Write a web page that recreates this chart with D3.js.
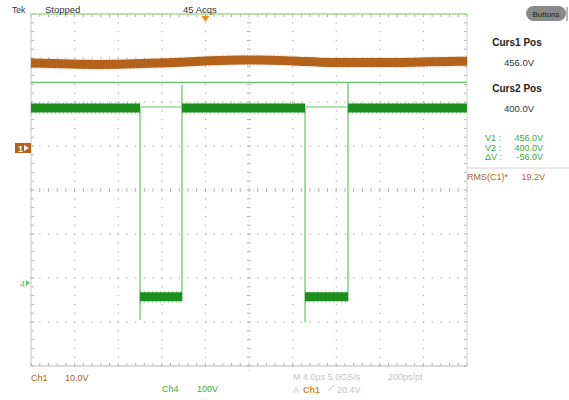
<!DOCTYPE html>
<html><head><meta charset="utf-8">
<script src="https://cdn.jsdelivr.net/npm/d3@7"></script>
<style>
html,body{margin:0;padding:0;background:#fff;}
svg{display:block;font-family:"Liberation Sans",Arial,sans-serif;}
</style></head>
<body>
<svg id="c" width="569" height="400"></svg>
<script>
// ---- data ----
// time axis in microseconds (4 us/div, trigger at t=0)
const timeRange = [-16, 24];
// Ch1 (10 V/div): slowly varying DC level, volts
const ch1Times  = [-16, -9.7, -4.2, -0.5, 3.2, 5.0, 8.0, 11.4, 17.9, 23.4, 24];
const ch1Volts  = [19.3, 19.0, 19.3, 19.7, 20.0, 20.0, 19.8, 19.45, 19.45, 19.7, 19.7];
// Ch4 (100 V/div): pulse train
const ch4High = 398;
const ch4Low = -31;
const pulseStarts = [-6.0, 9.14];
const pulseEnds   = [-2.15, 13.08];
const fallPeaks   = [-84, -89];
const risePeaks   = [450, 455];
// cursors (Ch4 volts)
const cursorVolts = [456, 400];
const cursorLabels = ["456.0V", "400.0V"];
const deltaLabel = "-56.0V";
const rmsLabel = "19.2V";
const ch1Scale = "10.0V", ch4Scale = "100V";

// ---- layout ----
const L = 31, R = 467, T = 14, B = 366;
const svg = d3.select("#c");
const x = d3.scaleLinear().domain(timeRange).range([L, R]);
const xDiv = d3.scaleLinear().domain([0, 10]).range([L, R]);
const yDiv = d3.scaleLinear().domain([0, 8]).range([T, B]);
// ch1 ground at y=148, ch4 ground at y=283
const y1 = d3.scaleLinear().domain([0, 10]).range([148, 148 - 44]);
const y4 = d3.scaleLinear().domain([0, 100]).range([283, 283 - 44]);

const brown = "#b5621a", green = "#1c8f1c", lgreen = "#62c462";

// ---- graticule ----
const g = svg.append("g");
const dotCol = "#b0b0b0";
for (let k = 1; k < 10; k++) {
  if (k === 5) continue;
  for (let j = 0; j <= 40; j++) {
    g.append("rect").attr("x", xDiv(k) - 0.5).attr("y", yDiv(j / 5) - 0.5)
      .attr("width", 1.2).attr("height", 1.2).attr("fill", dotCol);
  }
}
for (let k = 1; k < 8; k++) {
  if (k === 4) continue;
  for (let j = 0; j <= 50; j++) {
    g.append("rect").attr("x", xDiv(j / 5) - 0.5).attr("y", yDiv(k) - 0.5)
      .attr("width", 1.2).attr("height", 1.2).attr("fill", dotCol);
  }
}
// center lines with ticks
for (let j = 0; j <= 40; j++) {
  g.append("line").attr("x1", xDiv(5) - 2).attr("x2", xDiv(5) + 2)
    .attr("y1", yDiv(j / 5)).attr("y2", yDiv(j / 5)).attr("stroke", dotCol).attr("stroke-width", 1);
  g.append("rect").attr("x", xDiv(5) - 0.5).attr("y", yDiv(j / 5 + 0.1) - 0.5)
    .attr("width", 1).attr("height", 1).attr("fill", "#c8c8c8");
}
for (let j = 0; j <= 50; j++) {
  g.append("line").attr("x1", xDiv(j / 5)).attr("x2", xDiv(j / 5))
    .attr("y1", yDiv(4) - 2).attr("y2", yDiv(4) + 2).attr("stroke", dotCol).attr("stroke-width", 1);
  g.append("rect").attr("x", xDiv(j / 5 + 0.1) - 0.5).attr("y", yDiv(4) - 0.5)
    .attr("width", 1).attr("height", 1).attr("fill", "#c8c8c8");
}
// border ticks
for (let j = 0; j <= 50; j++) {
  g.append("line").attr("x1", xDiv(j / 5)).attr("x2", xDiv(j / 5)).attr("y1", T).attr("y2", T + 3).attr("stroke", "#b0b0b0");
  g.append("line").attr("x1", xDiv(j / 5)).attr("x2", xDiv(j / 5)).attr("y1", B).attr("y2", B - 3).attr("stroke", "#b0b0b0");
}
for (let j = 0; j <= 40; j++) {
  g.append("line").attr("x1", L).attr("x2", L + 3).attr("y1", yDiv(j / 5)).attr("y2", yDiv(j / 5)).attr("stroke", "#b0b0b0");
  g.append("line").attr("x1", R).attr("x2", R - 3).attr("y1", yDiv(j / 5)).attr("y2", yDiv(j / 5)).attr("stroke", "#b0b0b0");
}
// border
g.append("line").attr("x1", L).attr("x2", L).attr("y1", T).attr("y2", B).attr("stroke", "#c4c4c4");
g.append("line").attr("x1", L).attr("x2", R).attr("y1", B).attr("y2", B).attr("stroke", "#b8b8b8");
g.append("line").attr("x1", R).attr("x2", R).attr("y1", T).attr("y2", B).attr("stroke", "#cfd8c4");
g.append("line").attr("x1", L).attr("x2", R).attr("y1", T).attr("y2", T).attr("stroke", "#a9d88f").attr("stroke-width", 1.3);

// ---- cursors ----
cursorVolts.forEach(v => {
  svg.append("line").attr("x1", L).attr("x2", R).attr("y1", y4(v)).attr("y2", y4(v))
    .attr("stroke", lgreen).attr("stroke-width", 1.2);
});

// ---- Ch1 trace (noisy band) ----
const ch1Data = ch1Times.map((t, i) => [t, ch1Volts[i]]);
const line1 = d3.line().x(d => x(d[0])).y(d => y1(d[1])).curve(d3.curveMonotoneX);
svg.append("path").attr("d", line1(ch1Data)).attr("fill", "none")
  .attr("stroke", brown).attr("stroke-width", 9);
svg.append("path").attr("d", line1(ch1Data)).attr("fill", "none")
  .attr("stroke", brown).attr("stroke-width", 11).attr("stroke-opacity", 0.35)
  .attr("stroke-dasharray", "1,2");

// ---- Ch4 trace ----
const segs = [];
let t0 = timeRange[0];
pulseStarts.forEach((s, i) => {
  segs.push([[t0, ch4High], [s, ch4High]]);
  segs.push([[s, ch4Low], [pulseEnds[i], ch4Low]]);
  t0 = pulseEnds[i];
});
segs.push([[t0, ch4High], [timeRange[1], ch4High]]);
const line4 = d3.line().x(d => x(d[0])).y(d => y4(d[1]));
pulseStarts.forEach((s, i) => {
  svg.append("path").attr("d", line4([[s, ch4High], [s, fallPeaks[i]]]))
    .attr("stroke", lgreen).attr("stroke-width", 1.2).attr("fill", "none");
});
pulseEnds.forEach((s, i) => {
  svg.append("path").attr("d", line4([[s, ch4Low - 10], [s, risePeaks[i]]]))
    .attr("stroke", lgreen).attr("stroke-width", 1.2).attr("fill", "none");
});
segs.forEach(sg => {
  svg.append("path").attr("d", line4(sg)).attr("fill", "none")
    .attr("stroke", green).attr("stroke-width", 9);
  svg.append("path").attr("d", line4(sg)).attr("fill", "none")
    .attr("stroke", green).attr("stroke-width", 12).attr("stroke-opacity", 0.3)
    .attr("stroke-dasharray", "1,3");
});

// ---- markers ----
svg.append("rect").attr("x", 15).attr("y", y1(0) - 5).attr("width", 16).attr("height", 10).attr("fill", brown);
svg.append("text").attr("x", 18).attr("y", y1(0) + 4).attr("fill", "#fff").attr("font-size", 9).attr("font-weight", "bold").text("1");
svg.append("path").attr("d", `M24,${y1(0) - 3}L29,${y1(0)}L24,${y1(0) + 3}Z`).attr("fill", "#fff");
svg.append("text").attr("x", 20).attr("y", y4(0) + 3.5).attr("fill", lgreen).attr("font-size", 9).text("4");
svg.append("path").attr("d", `M26,${y4(0) - 3}L30,${y4(0)}L26,${y4(0) + 3}Z`).attr("fill", lgreen);
svg.append("path").attr("d", `M${x(0) - 4},16L${x(0) + 4},16L${x(0)},22Z`).attr("fill", "#f08c1e");

// ---- text ----
const txt = (xx, yy, s, opt = {}) => svg.append("text").attr("x", xx).attr("y", yy)
  .attr("font-size", opt.size || 9).attr("fill", opt.fill || "#333")
  .attr("font-weight", opt.bold ? "bold" : "normal")
  .attr("text-anchor", opt.anchor || "start").text(s);
txt(12, 13, "Tek", {size: 8.5});
txt(45, 13, "Stopped", {size: 9.5});
txt(183, 13, "45 Acqs", {size: 9.5});

svg.append("rect").attr("x", 526).attr("y", 6).attr("width", 40).attr("height", 15).attr("rx", 7.5)
  .attr("fill", "#8a8a8a");
txt(546, 17, "Buttons", {size: 8, fill: "#222", anchor: "middle"});
svg.append("line").attr("x1", 567).attr("x2", 567).attr("y1", 7).attr("y2", 21).attr("stroke", "#777");

svg.append("line").attr("x1", R).attr("x2", 569).attr("y1", 168).attr("y2", 168).attr("stroke", "#d0d0d0");
txt(517, 46, "Curs1 Pos", {size: 10, bold: true, anchor: "middle", fill: "#222"});
txt(519, 66, cursorLabels[0], {size: 9.5, anchor: "middle"});
txt(517, 92, "Curs2 Pos", {size: 10, bold: true, anchor: "middle", fill: "#222"});
txt(519, 112, cursorLabels[1], {size: 9.5, anchor: "middle"});
const cg = "#3aaa3a";
txt(485, 141, "V1 :", {size: 9, fill: cg});
txt(543, 141, cursorLabels[0], {size: 9, fill: cg, anchor: "end"});
txt(485, 150.5, "V2 :", {size: 9, fill: cg});
txt(543, 150.5, cursorLabels[1], {size: 9, fill: cg, anchor: "end"});
txt(485, 160, "ΔV :", {size: 9, fill: cg});
txt(543, 160, deltaLabel, {size: 9, fill: cg, anchor: "end"});
txt(467, 180, "RMS(C1)*", {size: 9, fill: brown});
txt(545, 180, rmsLabel, {size: 9, fill: brown, anchor: "end"});

txt(31, 380.5, "Ch1", {size: 9, fill: brown});
txt(65, 380.5, ch1Scale, {size: 9, fill: brown});
txt(162, 391.5, "Ch4", {size: 9, fill: cg});
txt(197, 391.5, ch4Scale, {size: 9, fill: cg});
txt(293, 380, "M 4.0µs 5.0GS/s", {size: 9, fill: "#c4c4c4"});
txt(388, 380, "200ps/pt", {size: 9, fill: "#c4c4c4"});
txt(293, 392.5, "A", {size: 9, fill: "#c4c4c4"});
txt(303, 392.5, "Ch1", {size: 9, fill: "#e08a2a", bold: true});
svg.append("line").attr("x1", 328).attr("x2", 334).attr("y1", 391).attr("y2", 385).attr("stroke", "#c4c4c4");
txt(337, 392.5, "20.4V", {size: 9, fill: "#c4c4c4"});
</script>
</body></html>
